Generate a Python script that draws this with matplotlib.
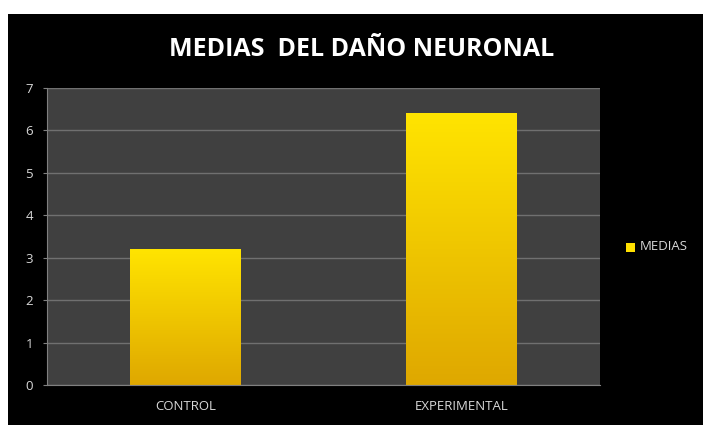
import matplotlib
matplotlib.use("Agg")
import matplotlib.pyplot as plt
import numpy as np
from matplotlib.patches import Rectangle
from matplotlib.colors import LinearSegmentedColormap

# datos del grafico
categorias = ["CONTROL", "EXPERIMENTAL"]
medias = [3.2, 6.4]
titulo = "MEDIAS  DEL DAÑO NEURONAL"
serie = "MEDIAS"

fig = plt.figure(figsize=(7.03, 4.25), dpi=100)
fig.patch.set_facecolor("white")
# fondo negro del grafico (borde blanco arriba e izquierda)
fig.patches.append(Rectangle((8/703, 0), 1, (425-14)/425, transform=fig.transFigure,
                             facecolor="black", edgecolor="none", zorder=-1))

ax = fig.add_axes([47/703, 1-385/425, (600-47)/703, (385-88)/425])
ax.set_facecolor("#404040")
x = np.arange(len(categorias))
barras = ax.bar(x, medias, width=0.4, color="#FFD800", edgecolor="none", zorder=2)

# degradado amarillo en cada barra
grad = LinearSegmentedColormap.from_list("g", ["#DFA800", "#FFE400"])
for b in barras:
    b.set_facecolor("none")
    img = ax.imshow(np.linspace(0, 1, 100).reshape(-1, 1), cmap=grad, aspect="auto",
                    extent=[b.get_x(), b.get_x()+b.get_width(), 0, b.get_height()],
                    origin="lower", zorder=2)
    img.set_clip_path(b)

ax.set_xlim(-0.5, 1.5)
ax.set_ylim(0, 7)
ax.set_yticks(range(0, 8))
ax.set_xticks(x)
ax.set_xticklabels(categorias)
ax.grid(axis="y", color="#707070", linewidth=1, zorder=1)
ax.set_axisbelow(True)
for s in ["top", "right"]:
    ax.spines[s].set_visible(False)
ax.spines["left"].set_color("#808080")
ax.spines["bottom"].set_color("#808080")
ax.tick_params(axis="y", colors="#808080", labelcolor="#d8d8d8", labelsize=9.5, length=3, pad=7)
ax.tick_params(axis="x", length=0, labelcolor="#d8d8d8", labelsize=9.5, pad=11)
for t in ax.get_xticklabels() + ax.get_yticklabels():
    t.set_fontfamily("Open Sans")

fig.text(362/703, 1-50/425, titulo, color="white", fontsize=18, fontweight="bold",
         family="Open Sans", ha="center", va="center")

# leyenda
fig.patches.append(Rectangle((626/703, 1-252/425), 9/703, 9/425, transform=fig.transFigure,
                             facecolor="#FFE000", edgecolor="none"))
fig.text(640/703, 1-247/425, serie, color="#d8d8d8", fontsize=9.5, family="Open Sans",
         ha="left", va="center")

fig.savefig("out.png", dpi=100, facecolor=fig.get_facecolor())
